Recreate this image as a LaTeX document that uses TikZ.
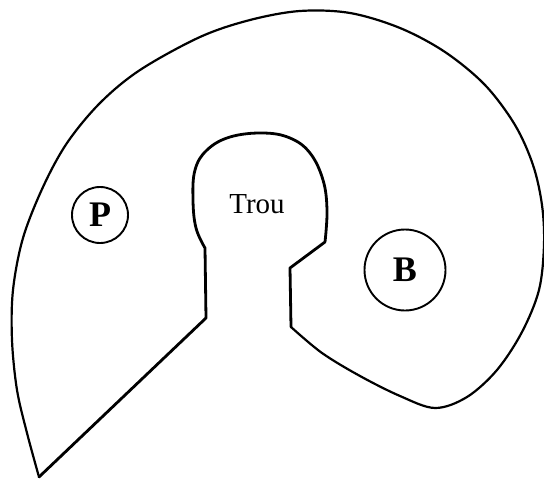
\documentclass[tikz,border=0pt]{standalone}
\usepackage{fontspec}
\setmainfont{Liberation Serif}
\begin{document}
\begin{tikzpicture}[x=1pt,y=-1pt,
  outer/.style={line width=2.2pt,line join=round,line cap=round},
  inner/.style={line width=2.8pt,line join=round,line cap=round},
  ring/.style={circle,draw,line width=1.9pt,inner sep=0pt,font=\fontsize{36}{36}\selectfont\bfseries},
  lbl/.style={font=\fontsize{29}{29}\selectfont}]
\useasboundingbox (0,0) rectangle (544,479);
% outer boundary
\draw[outer] plot[smooth,tension=0.55] coordinates {(39,477) (27,433) (17,390) (12,340) (13,290) (23,238) (43,187) (67,143) (100,103) (140,70) (200,37) (250,20) (300,11) (350,13) (400,28) (445,52) (485,85) (515,125) (533,165) (542,205) (544,245) (539,290) (522,332) (497,370) (467,397) (435,408) (400,396) (360,376) (322,353) (291,327)};
% hole outline
\draw[inner] (291,327) -- (290,268) -- (325,242)
  plot[smooth,tension=0.65] coordinates {(325,242) (327,210) (323,180) (310,153) (290,138) (263,133) (230,137) (207,150) (195,170) (193,200) (196,228) (205,248)}
  -- (206,318) -- (39,477);
\node[lbl] (trou) at (257,204) {Trou};
\node[ring,minimum size=56pt] (P) at (100,215) {P};
\node[ring,minimum size=81pt] (B) at (405,270) {B};
\end{tikzpicture}
\end{document}
